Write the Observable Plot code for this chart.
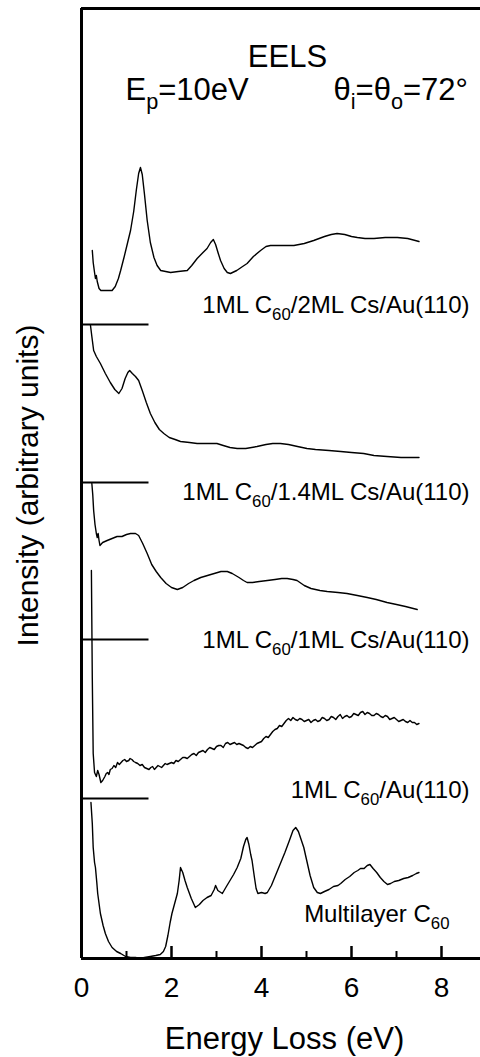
<!DOCTYPE html>
<html><head><meta charset="utf-8">
<script src="https://cdn.jsdelivr.net/npm/d3@7"></script>
<script src="https://cdn.jsdelivr.net/npm/@observablehq/plot@0.6"></script>
<style>body{margin:0;background:#fff;} svg{display:block}</style>
</head><body><div id="chart"></div>
<script>
// ---- data (energy loss eV, intensity above own baseline, arbitrary units) ----
const cs2 = [[0.24,7.4],[0.26,6.2],[0.29,5.2],[0.31,4.6],[0.33,4.9],[0.35,4.3],[0.39,3.6],[0.43,3.4],[0.55,3.4],[0.68,3.4],[0.75,3.8],[0.82,4.6],[0.87,5.4],[0.95,6.8],[1.02,8.1],[1.09,9.4],[1.16,11.3],[1.22,13.5],[1.27,15.1],[1.31,15.7],[1.35,15.0],[1.4,13.0],[1.46,10.4],[1.53,8.2],[1.61,6.7],[1.68,5.9],[1.76,5.4],[1.87,5.3],[1.98,5.2],[2.15,5.3],[2.35,5.4],[2.45,5.9],[2.57,6.6],[2.7,7.2],[2.79,7.6],[2.87,8.2],[2.93,8.5],[2.98,8.0],[3.04,7.1],[3.09,6.4],[3.17,5.6],[3.24,5.2],[3.31,5.1],[3.45,5.4],[3.58,5.8],[3.68,6.1],[3.82,6.8],[3.98,7.4],[4.1,7.8],[4.2,7.9],[4.45,7.9],[4.72,7.9],[4.95,8.1],[5.16,8.4],[5.4,8.8],[5.55,9.0],[5.68,9.1],[5.85,9.0],[6.0,8.8],[6.13,8.7],[6.3,8.6],[6.5,8.6],[6.75,8.7],[7.02,8.7],[7.25,8.6],[7.5,8.3]];
const cs14 = [[0.2,15.7],[0.23,14.6],[0.27,13.2],[0.33,12.6],[0.42,11.9],[0.53,10.9],[0.64,10.0],[0.74,9.3],[0.83,8.9],[0.9,9.4],[0.97,10.4],[1.03,11.0],[1.07,11.2],[1.13,10.9],[1.2,10.6],[1.27,10.2],[1.35,9.2],[1.44,8.0],[1.53,6.9],[1.63,6.0],[1.73,5.3],[1.83,4.9],[1.95,4.5],[2.08,4.3],[2.2,4.1],[2.4,4.0],[2.57,3.9],[2.8,3.9],[3.01,3.9],[3.15,3.7],[3.3,3.5],[3.46,3.4],[3.65,3.4],[3.9,3.6],[4.1,3.8],[4.25,3.9],[4.42,3.9],[4.6,3.8],[4.8,3.6],[5.01,3.4],[5.2,3.3],[5.5,3.2],[5.76,3.1],[6.0,3.0],[6.27,2.9],[6.5,2.7],[6.79,2.6],[7.1,2.5],[7.5,2.5]];
const cs1 = [[0.23,15.6],[0.25,14.5],[0.27,12.9],[0.3,11.5],[0.33,10.6],[0.35,10.2],[0.37,10.6],[0.39,9.9],[0.41,9.4],[0.47,9.7],[0.57,9.9],[0.68,10.1],[0.79,10.3],[0.9,10.3],[1.0,10.5],[1.09,10.6],[1.2,10.6],[1.27,10.4],[1.36,9.6],[1.46,8.6],[1.56,7.5],[1.66,6.8],[1.76,6.2],[1.88,5.6],[2.0,5.2],[2.13,5.0],[2.25,5.2],[2.38,5.6],[2.5,5.9],[2.65,6.2],[2.8,6.4],[2.95,6.6],[3.1,6.8],[3.24,6.8],[3.35,6.6],[3.5,6.2],[3.6,5.9],[3.68,5.7],[3.8,5.7],[3.95,5.8],[4.13,5.9],[4.3,6.0],[4.45,6.1],[4.57,6.1],[4.7,6.0],[4.79,5.9],[4.95,5.4],[5.1,5.1],[5.3,4.9],[5.46,4.8],[5.7,4.7],[5.9,4.6],[6.13,4.4],[6.35,4.2],[6.55,4.0],[6.79,3.7],[7.0,3.5],[7.2,3.3],[7.46,3.0]];
const au = [[0.22,22.8],[0.24,12.0],[0.26,4.5],[0.29,2.6],[0.33,2.2],[0.36,2.8],[0.39,2.4],[0.43,1.6],[0.47,1.8],[0.52,2.2],[0.55,2.5],[0.58,2.6],[0.61,2.4],[0.64,2.9],[0.68,3.0],[0.72,3.3],[0.76,3.1],[0.8,3.6],[0.84,3.4],[0.88,3.6],[0.92,3.8],[0.96,3.9],[1.0,3.7],[1.05,3.8],[1.08,4.0],[1.12,3.9],[1.16,3.7],[1.2,3.6],[1.25,3.5],[1.3,3.3],[1.35,3.4],[1.4,3.1],[1.45,3.0],[1.5,2.9],[1.54,3.1],[1.58,3.2],[1.62,2.9],[1.66,3.1],[1.7,3.3],[1.74,3.2],[1.78,3.1],[1.82,3.3],[1.86,3.5],[1.9,3.4],[1.95,3.5],[2.0,3.6],[2.05,3.5],[2.1,3.8],[2.15,3.7],[2.2,3.9],[2.25,4.1],[2.3,4.1],[2.35,4.0],[2.4,4.2],[2.45,4.4],[2.5,4.5],[2.55,4.3],[2.6,4.6],[2.65,4.7],[2.7,4.8],[2.75,4.6],[2.8,4.9],[2.85,5.1],[2.9,5.0],[2.95,4.9],[3.0,5.2],[3.05,5.3],[3.1,5.3],[3.15,5.1],[3.2,5.5],[3.25,5.6],[3.3,5.4],[3.35,5.5],[3.4,5.6],[3.45,5.4],[3.5,5.5],[3.55,5.4],[3.6,5.3],[3.65,5.1],[3.7,5.0],[3.75,5.2],[3.8,5.1],[3.85,5.3],[3.9,5.5],[3.95,5.6],[4.0,5.7],[4.05,6.0],[4.1,6.2],[4.15,6.1],[4.2,6.4],[4.25,6.7],[4.3,6.9],[4.35,7.0],[4.4,7.3],[4.45,7.2],[4.5,7.5],[4.55,7.8],[4.6,8.0],[4.65,7.8],[4.7,8.1],[4.75,7.9],[4.8,7.8],[4.85,8.0],[4.9,7.9],[4.95,7.7],[5.0,7.8],[5.05,7.9],[5.1,7.6],[5.15,7.8],[5.2,7.9],[5.25,7.7],[5.3,7.8],[5.35,8.1],[5.4,8.0],[5.45,7.8],[5.5,7.9],[5.55,8.2],[5.6,8.1],[5.65,7.9],[5.7,8.2],[5.75,8.4],[5.8,8.0],[5.85,8.2],[5.9,8.3],[5.95,8.1],[6.0,8.2],[6.05,8.5],[6.1,8.4],[6.15,8.3],[6.2,8.6],[6.25,8.7],[6.3,8.4],[6.35,8.6],[6.4,8.5],[6.45,8.3],[6.5,8.3],[6.55,8.5],[6.6,8.4],[6.65,8.2],[6.7,8.1],[6.75,8.3],[6.8,8.2],[6.85,7.9],[6.9,8.0],[6.95,8.1],[7.0,7.9],[7.05,7.7],[7.1,7.8],[7.15,7.9],[7.2,7.7],[7.25,7.6],[7.3,7.8],[7.35,7.6],[7.4,7.6],[7.45,7.4],[7.5,7.5]];
const multi = [[0.21,15.6],[0.24,13.5],[0.26,11.1],[0.29,9.6],[0.31,9.1],[0.34,7.6],[0.36,6.5],[0.42,4.5],[0.48,3.3],[0.53,2.5],[0.6,1.7],[0.68,1.1],[0.78,0.7],[0.87,0.5],[0.98,0.2],[1.09,0.1],[1.2,0.1],[1.3,0.0],[1.4,0.1],[1.53,0.2],[1.65,0.3],[1.75,0.4],[1.82,0.7],[1.87,1.2],[1.92,2.3],[1.97,3.6],[2.01,4.5],[2.07,5.5],[2.13,6.5],[2.17,7.8],[2.2,9.1],[2.25,8.6],[2.3,7.8],[2.35,7.1],[2.44,6.0],[2.53,5.1],[2.62,5.4],[2.7,5.8],[2.79,6.1],[2.88,6.3],[2.95,6.9],[2.98,7.3],[3.03,6.8],[3.13,6.5],[3.22,7.2],[3.3,7.8],[3.38,8.4],[3.46,9.1],[3.54,10.0],[3.6,11.2],[3.65,11.9],[3.68,12.1],[3.72,11.4],[3.76,10.4],[3.79,9.8],[3.84,8.2],[3.88,7.0],[3.92,6.5],[4.0,6.6],[4.08,6.5],[4.13,6.6],[4.22,7.3],[4.32,8.4],[4.42,9.5],[4.52,10.6],[4.62,11.8],[4.7,12.8],[4.76,13.1],[4.82,12.7],[4.88,11.9],[4.94,11.1],[5.0,9.9],[5.08,8.3],[5.16,7.1],[5.24,6.6],[5.31,6.5],[5.4,6.7],[5.5,6.9],[5.6,7.2],[5.7,7.3],[5.76,7.5],[5.86,7.9],[5.96,8.2],[6.06,8.6],[6.14,8.8],[6.2,9.0],[6.28,9.0],[6.35,9.3],[6.41,9.4],[6.48,9.0],[6.56,8.6],[6.64,8.1],[6.72,7.7],[6.8,7.4],[6.87,7.5],[6.95,7.7],[7.05,7.8],[7.16,8.0],[7.26,8.1],[7.36,8.3],[7.44,8.5],[7.5,8.6]];

const seriesNames = ["1ML C_{60}/2ML Cs/Au(110)", "1ML C_{60}/1.4ML Cs/Au(110)", "1ML C_{60}/1ML Cs/Au(110)", "1ML C_{60}/Au(110)", "Multilayer C_{60}"];
const seriesPoints = [cs2, cs14, cs1, au, multi];
const seriesOffsets = [63.4, 47.6, 31.9, 16, 0];   // vertical stacking offsets (arb. units)
const majorTicks = [0, 2, 4, 6, 8];
const minorTicks = [1, 3, 5, 7];
const titleText = "EELS";
const beamText = "E_{p}=10eV";
const angleText = "θ_{i}=θ_{o}=72°";
const xLabel = "Energy Loss (eV)";
const yLabel = "Intensity (arbitrary units)";

// ---- layout ----
const xMax = 8.8667, yMax = 95, baselineEnd = 1.5;
const labelLayout = [{dx: -11, dy: -18.7}, {dx: -11, dy: 10.3}, {dx: -11, dy: 1.3}, {dx: -11, dy: -7.7}, {dx: -31, dy: -43.7}];

const rows = seriesPoints.flatMap((pts, i) => pts.map(([e, v]) => ({series: seriesNames[i], e, v: v + seriesOffsets[i]})));
const font = "'Liberation Sans', Arial, Helvetica, sans-serif";

const chart = Plot.plot({
  width: 480, height: 1057,
  marginLeft: 81, marginRight: 0, marginTop: 8, marginBottom: 99,
  x: {domain: [0, xMax], axis: null},
  y: {domain: [0, yMax], axis: null},
  style: {fontFamily: font, background: "white", color: "black", overflow: "visible"},
  marks: [
    Plot.ruleY([0], {strokeWidth: 3, stroke: "black"}),
    Plot.ruleY([yMax], {strokeWidth: 3, stroke: "black"}),
    Plot.ruleX([0], {strokeWidth: 3, stroke: "black"}),
    Plot.ruleX(majorTicks, {x: d => d, y1: 0, y2: 1.2, strokeWidth: 2.5, stroke: "black"}),
    Plot.ruleX(minorTicks, {x: d => d, y1: 0, y2: 0.7, strokeWidth: 2, stroke: "black"}),
    Plot.ruleY(seriesOffsets.slice(0, 4), {y: d => d, x1: 0, x2: baselineEnd, strokeWidth: 2, stroke: "black"}),
    Plot.line(rows, {x: "e", y: "v", z: "series", stroke: "black", strokeWidth: 1.4}),
    Plot.text(majorTicks, {x: d => d, text: d => String(d), frameAnchor: "bottom", dy: 30, fontSize: 28, lineAnchor: "middle", fill: "black"}),
    Plot.text([xLabel], {text: d => d, frameAnchor: "bottom", textAnchor: "middle", dx: 3.5, dy: 81, fontSize: 31, lineAnchor: "middle", fill: "black"}),
    Plot.text([yLabel], {text: d => d, frameAnchor: "left", textAnchor: "middle", rotate: -90, dx: -53, dy: 2, fontSize: 30, lineAnchor: "middle", fill: "black"}),
    Plot.text([titleText], {text: d => d, frameAnchor: "top", textAnchor: "middle", dx: 6.5, dy: 49, fontSize: 31, lineAnchor: "middle", fill: "black"}),
    Plot.text([beamText], {text: d => d, frameAnchor: "top-left", textAnchor: "start", dx: 44, dy: 82, fontSize: 31, lineAnchor: "middle", fill: "black"}),
    Plot.text([angleText], {text: d => d, frameAnchor: "top-left", textAnchor: "start", dx: 252, dy: 82, fontSize: 31, lineAnchor: "middle", fill: "black"}),
    ...seriesNames.map((name, i) => Plot.text([i], {
      y: j => seriesOffsets[j], text: j => seriesNames[j], frameAnchor: "right", textAnchor: "end",
      dx: labelLayout[i].dx, dy: labelLayout[i].dy, fontSize: 24, lineAnchor: "middle", fill: "black"
    }))
  ]
});
document.getElementById("chart").appendChild(chart);

// turn _{..} into real subscript tspans
chart.querySelectorAll("text").forEach(t => {
  const s = t.textContent;
  if (!s.includes("_{")) return;
  const fs = parseFloat(getComputedStyle(t).fontSize);
  const shift = fs * 0.28, subFs = fs * 0.7;
  while (t.firstChild) t.removeChild(t.firstChild);
  let down = false;
  for (const p of s.split(/(_\{[^}]*\})/)) {
    if (!p) continue;
    const ts = document.createElementNS("http://www.w3.org/2000/svg", "tspan");
    if (p.startsWith("_{")) {
      ts.textContent = p.slice(2, -1);
      ts.setAttribute("font-size", subFs);
      ts.setAttribute("dy", shift);
      down = true;
    } else {
      ts.textContent = p;
      if (down) { ts.setAttribute("dy", -shift); down = false; }
    }
    t.appendChild(ts);
  }
});
</script>
</body></html>
